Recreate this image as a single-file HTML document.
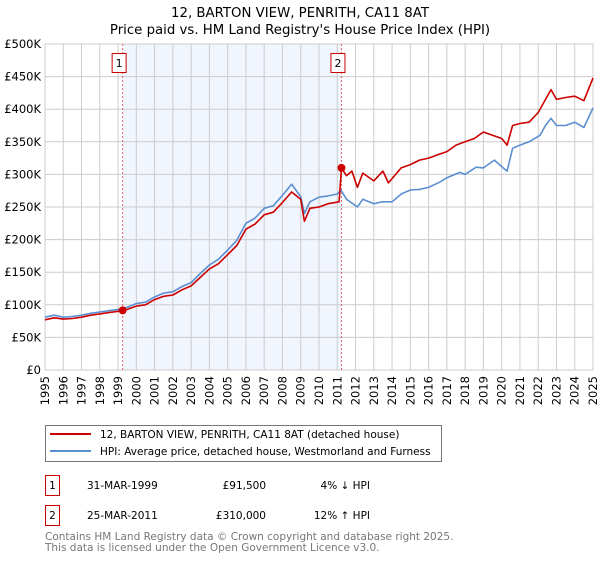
<!DOCTYPE html>
<html><head><meta charset="utf-8"><style>
body{margin:0;background:#fff;font-family:"DejaVu Sans","Liberation Sans",sans-serif;}
svg text{font-family:"DejaVu Sans","Liberation Sans",sans-serif;}
</style></head><body>
<svg id="chart" width="600" height="560" xmlns="http://www.w3.org/2000/svg">
<text x="300" y="17" text-anchor="middle" font-size="13.3">12, BARTON VIEW, PENRITH, CA11 8AT</text>
<text x="300" y="34" text-anchor="middle" font-size="13.3">Price paid vs. HM Land Registry's House Price Index (HPI)</text>
<g id="plot"></g>
<g>
<rect x="45.5" y="425.5" width="396" height="36" fill="#fff" stroke="#777"/>
<line x1="50" y1="434" x2="91" y2="434" stroke="#cc0000" stroke-width="2"/>
<text x="100" y="438" font-size="10.5">12, BARTON VIEW, PENRITH, CA11 8AT (detached house)</text>
<line x1="50" y1="451" x2="91" y2="451" stroke="#5b8fd0" stroke-width="2"/>
<text x="100" y="455" font-size="10.5">HPI: Average price, detached house, Westmorland and Furness</text>
</g>
<g font-size="10.5">
<rect x="45.5" y="475.5" width="14" height="20" fill="#fff" stroke="#cc0000"/>
<text x="52.5" y="489" text-anchor="middle">1</text>
<text x="87" y="489">31-MAR-1999</text>
<text x="266" y="489" text-anchor="end">£91,500</text>
<text x="370" y="489" text-anchor="end">4% ↓ HPI</text>
<rect x="45.5" y="505.5" width="14" height="20" fill="#fff" stroke="#cc0000"/>
<text x="52.5" y="519" text-anchor="middle">2</text>
<text x="87" y="519">25-MAR-2011</text>
<text x="266" y="519" text-anchor="end">£310,000</text>
<text x="370" y="519" text-anchor="end">12% ↑ HPI</text>
</g>
<text x="45" y="540" font-size="10.5" fill="#777">Contains HM Land Registry data © Crown copyright and database right 2025.</text>
<text x="45" y="551" font-size="10.5" fill="#777">This data is licensed under the Open Government Licence v3.0.</text>
</svg>
<script>
const hpiYears=[1995,1995.5,1996,1996.5,1997,1997.5,1998,1998.5,1999,1999.5,2000,2000.5,2001,2001.5,2002,2002.5,2003,2003.5,2004,2004.5,2005,2005.5,2006,2006.5,2007,2007.5,2008,2008.5,2009,2009.2,2009.5,2010,2010.5,2011,2011.2,2011.5,2012.1,2012.4,2013,2013.5,2014,2014.5,2015,2015.5,2016,2016.6,2017,2017.7,2018,2018.6,2019,2019.6,2020,2020.3,2020.6,2021,2021.5,2022.1,2022.4,2022.7,2023,2023.5,2024,2024.5,2025];
const hpiValues=[81,84,81,82,84,87,89,91,93,96,102,104,112,118,120,128,134,148,161,170,184,199,225,233,248,252,268,285,266,240,258,265,267,270,276,262,250,262,255,258,258,270,276,277,280,288,295,303,300,311,310,322,312,305,340,345,350,360,375,386,375,375,380,372,402];
const ppYears=[1995,1995.5,1996,1996.5,1997,1997.5,1998,1998.5,1999,1999.25,1999.5,2000,2000.5,2001,2001.5,2002,2002.5,2003,2003.5,2004,2004.5,2005,2005.5,2006,2006.5,2007,2007.5,2008,2008.5,2009,2009.2,2009.5,2010,2010.5,2011.1,2011.23,2011.5,2011.8,2012.1,2012.4,2013,2013.5,2013.8,2014.5,2015,2015.5,2016,2016.5,2017,2017.5,2018,2018.5,2019,2019.5,2020,2020.3,2020.6,2021,2021.5,2022,2022.7,2023,2023.5,2024,2024.5,2025];
const ppValues=[77,80,78,79,81,84,86,88,90,91.5,93,98,100,108,113,115,123,129,142,155,163,177,191,216,224,238,242,257,273,262,228,248,250,255,258,310,298,305,280,302,290,305,287,310,315,322,325,330,335,345,350,355,365,360,355,345,375,378,380,395,430,415,418,420,413,448];
const sales=[{year:1999.25,value:91.5,label:"1"},{year:2011.23,value:310,label:"2"}];
const yTicks=[0,50,100,150,200,250,300,350,400,450,500];
const yTickLabels=["£0","£50K","£100K","£150K","£200K","£250K","£300K","£350K","£400K","£450K","£500K"];
const xTicks=[1995,1996,1997,1998,1999,2000,2001,2002,2003,2004,2005,2006,2007,2008,2009,2010,2011,2012,2013,2014,2015,2016,2017,2018,2019,2020,2021,2022,2023,2024,2025];

const X0=45,X1=593,Y0=370,Y1=44;
const xs=y=>X0+(y-1995)/30*(X1-X0);
const ys=v=>Y0-v/500*(Y0-Y1);
const NS="http://www.w3.org/2000/svg";
const g=document.getElementById('plot');
function mk(t,a){const e=document.createElementNS(NS,t);for(const k in a)e.setAttribute(k,a[k]);g.appendChild(e);return e;}
let sh=mk('rect',{x:xs(sales[0].year),y:Y1,width:xs(sales[1].year)-xs(sales[0].year),height:Y0-Y1,fill:'#eef3fc',opacity:0.8});


yTicks.forEach((t,i)=>{
 let l=mk('line',{x1:X0,x2:X1,y1:ys(t),y2:ys(t),stroke:'#ccc'});
 
 
 let tx=mk('text',{x:X0-4,y:ys(t)+4,'text-anchor':'end','font-size':'11.5'});
 tx.textContent=yTickLabels[i];
 
 
});
xTicks.forEach(t=>{
 let l=mk('line',{x1:xs(t),x2:xs(t),y1:Y1,y2:Y0,stroke:'#ccc'});
 
 
 let tx=mk('text',{x:0,y:0,'text-anchor':'end','font-size':'11.5',transform:`translate(${xs(t)+4},${Y0+6}) rotate(-90)`});
 tx.textContent=t;
 
 
});
let fr=mk('rect',{x:X0,y:Y1,width:X1-X0,height:Y0-Y1,fill:'none',stroke:'#ccc'});


sales.forEach(s=>{
 let l=mk('line',{x1:xs(s.year),x2:xs(s.year),y1:Y1,y2:Y0,stroke:'#e06070','stroke-dasharray':'2,2'});
 
 
 let b=mk('rect',{x:xs(s.year)-10.5,y:53.5,width:14,height:19,fill:'#fff',stroke:'#cc0000'});
 
 
 let t=mk('text',{x:xs(s.year)-3.5,y:67,'text-anchor':'middle','font-size':'11'});
 t.textContent=s.label;
 
 
});
function path(xa,va,c,n){
 let d=xa.map((x,i)=>(i?'L':'M')+xs(x).toFixed(1)+','+ys(va[i]).toFixed(1)).join('');
 let p=mk('path',{d:d,fill:'none',stroke:c,'stroke-width':1.6,'stroke-linejoin':'round'});
 
 
}
path(hpiYears,hpiValues,'#5b8fd0','hpi-line');
path(ppYears,ppValues,'#cc0000','price-paid-line');
sales.forEach(s=>{
 let c=mk('circle',{cx:xs(s.year),cy:ys(s.value),r:4,fill:'#cc0000'});
 
 
});
</script>
</body></html>
